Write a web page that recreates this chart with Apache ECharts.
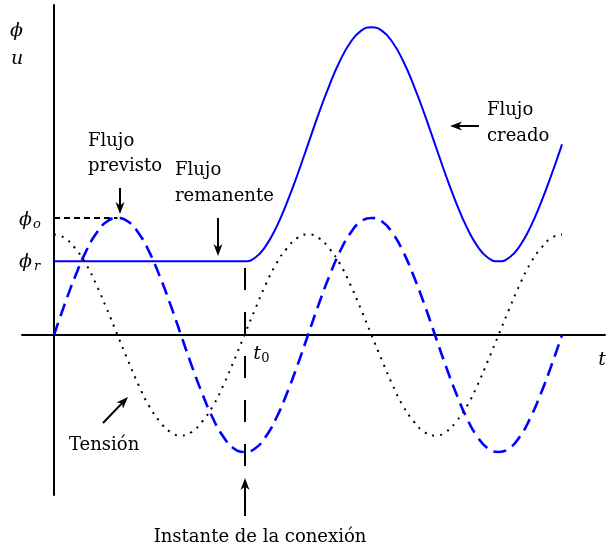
<!DOCTYPE html>
<html>
<head>
<meta charset="utf-8">
<script src="https://cdn.jsdelivr.net/npm/echarts@6/dist/echarts.min.js"></script>
<style>
  html, body { margin: 0; padding: 0; background: #fff; }
  #chart { width: 606px; height: 547px; }
</style>
</head>
<body>
<div id="chart"></div>
<script>
// Phase angle (degrees) of each sample
const t = [0, 15, 30, 45, 60, 75, 90, 105, 120, 135, 150, 165, 180, 195, 210, 225, 240, 255,
           270, 285, 300, 315, 330, 345, 360, 375, 390, 405, 420, 435, 450, 465, 480, 495,
           510, 525, 540, 555, 570, 585, 600, 615, 630, 645, 660, 675, 690, 705, 720];

// Expected flux (steady state), in units of its peak value
const fluxExpected = [0, 0.26, 0.5, 0.71, 0.87, 0.97, 1, 0.97, 0.87, 0.71, 0.5, 0.26, 0, -0.26, -0.5, -0.71, -0.87, -0.97,
                      -1, -0.97, -0.87, -0.71, -0.5, -0.26, 0, 0.26, 0.5, 0.71, 0.87, 0.97, 1, 0.97, 0.87, 0.71,
                      0.5, 0.26, 0, -0.26, -0.5, -0.71, -0.87, -0.97, -1, -0.97, -0.87, -0.71, -0.5, -0.26, 0];

// Supply voltage
const voltage = [0.86, 0.83, 0.74, 0.61, 0.43, 0.22, 0, -0.22, -0.43, -0.61, -0.74, -0.83, -0.86, -0.83, -0.74, -0.61, -0.43, -0.22,
                 0, 0.22, 0.43, 0.61, 0.74, 0.83, 0.86, 0.83, 0.74, 0.61, 0.43, 0.22, 0, -0.22, -0.43, -0.61,
                 -0.74, -0.83, -0.86, -0.83, -0.74, -0.61, -0.43, -0.22, 0, 0.22, 0.43, 0.61, 0.74, 0.83, 0.86];

// Flux actually created: remanent until connection, then offset wave
const fluxCreated = [0.63, 0.63, 0.63, 0.63, 0.63, 0.63, 0.63, 0.63, 0.63, 0.63, 0.63, 0.63, 0.63, 0.63, 0.63, 0.63, 0.63, 0.63,
                     0.63, 0.66, 0.76, 0.92, 1.13, 1.37, 1.63, 1.89, 2.13, 2.34, 2.50, 2.60, 2.63, 2.60, 2.50, 2.34,
                     2.13, 1.89, 1.63, 1.37, 1.13, 0.92, 0.76, 0.66, 0.63, 0.66, 0.76, 0.92, 1.13, 1.37, 1.63];

const phiO = 1;       // peak of expected flux
const phiR = 0.63;    // remanent flux
const tConnect = 270; // switching instant
const tConnectLow = -1.12;

const pairs = (ys) => t.map((x, i) => [x, ys[i]]);

const serif = '"DejaVu Serif", "Liberation Serif", serif';
const txt = (text, x, y, opts = {}) => ({
  type: 'text', z: 100,
  style: {
    text, x, y,
    font: (opts.italic ? 'italic ' : '') + (opts.size || 18) + 'px ' + serif,
    fill: '#000',
    textAlign: opts.align || 'left',
    textVerticalAlign: 'middle'
  }
});

// Straight arrow with a slightly swept head, tip at (x2, y2)
function arrow(x1, y1, x2, y2) {
  const dx = x2 - x1, dy = y2 - y1, len = Math.hypot(dx, dy);
  const ux = dx / len, uy = dy / len, px = -uy, py = ux;
  const L = 12, W = 4.5, N = 3.5;
  const bx = x2 - ux * L, by = y2 - uy * L;
  return [
    { type: 'line', z: 100, shape: { x1, y1, x2: x2 - ux * 4, y2: y2 - uy * 4 },
      style: { stroke: '#000', lineWidth: 2 } },
    { type: 'polygon', z: 100,
      shape: { points: [[x2, y2], [bx + px * W, by + py * W], [x2 - ux * (L - N), y2 - uy * (L - N)], [bx - px * W, by - py * W]] },
      style: { fill: '#000' } }
  ];
}

const chart = echarts.init(document.getElementById('chart'), null, { renderer: 'canvas' });

const axisCommon = {
  type: 'value',
  axisLine: { show: true, onZero: true, lineStyle: { color: '#000', width: 2 } },
  axisTick: { show: false },
  axisLabel: { show: false },
  splitLine: { show: false }
};

chart.setOption({
  animation: false,
  backgroundColor: '#fff',
  grid: { left: 22, right: 1, top: 5, bottom: 52, containLabel: false, outerBoundsMode: 'none' },
  xAxis: Object.assign({}, axisCommon, { min: -45.35, max: 780.9 }),
  yAxis: Object.assign({}, axisCommon, { min: -1.368, max: 2.821 }),
  series: [
    {
      name: 'Flujo creado', type: 'line', data: pairs(fluxCreated),
      symbol: 'none', smooth: 0.5, z: 3,
      lineStyle: { color: '#0000ff', width: 2 }
    },
    {
      name: 'Flujo previsto', type: 'line', data: pairs(fluxExpected),
      symbol: 'none', smooth: 0.5, z: 4,
      lineStyle: { color: '#0000ff', width: 2.6, type: [13, 7] },
      markLine: {
        silent: true, symbol: ['none', 'none'], label: { show: false },
        data: [
          [{ coord: [0, phiO], lineStyle: { color: '#000', width: 2, type: [6, 4] } },
           { coord: [90, phiO] }],
          [{ coord: [tConnect, tConnectLow], lineStyle: { color: '#000', width: 2, type: [22, 22] } },
           { coord: [tConnect, phiR] }]
        ]
      }
    },
    {
      name: 'Tensión', type: 'line', data: pairs(voltage),
      symbol: 'none', smooth: 0.5, z: 5,
      lineStyle: { color: '#000', width: 2, type: [2, 6] }
    }
  ],
  graphic: [
    txt('ϕ', 16.5, 31, { italic: true, size: 19, align: 'center' }),
    txt('u', 17, 59, { italic: true, size: 19, align: 'center' }),
    txt('ϕ', 25.5, 220, { italic: true, size: 19, align: 'center' }),
    txt('o', 37, 225, { italic: true, size: 13, align: 'center' }),
    txt('ϕ', 25.5, 262, { italic: true, size: 19, align: 'center' }),
    txt('r', 37, 267, { italic: true, size: 13, align: 'center' }),
    txt('t', 602, 360, { italic: true, size: 19, align: 'center' }),
    txt('t', 257, 354, { italic: true, size: 19, align: 'center' }),
    txt('0', 265.5, 359, { size: 13, align: 'center' }),
    txt('Flujo', 88, 141), txt('previsto', 88, 166),
    txt('Flujo', 175, 170), txt('remanente', 175, 196),
    txt('Flujo', 487, 110), txt('creado', 487, 136),
    txt('Tensión', 69, 445),
    txt('Instante de la conexión', 260, 537, { align: 'center' }),
    ...arrow(120, 188, 120, 214),
    ...arrow(218, 218, 218, 256),
    ...arrow(479, 126, 450, 126),
    ...arrow(103, 423, 128, 397),
    ...arrow(245, 516, 245, 478)
  ]
});
</script>
</body>
</html>
